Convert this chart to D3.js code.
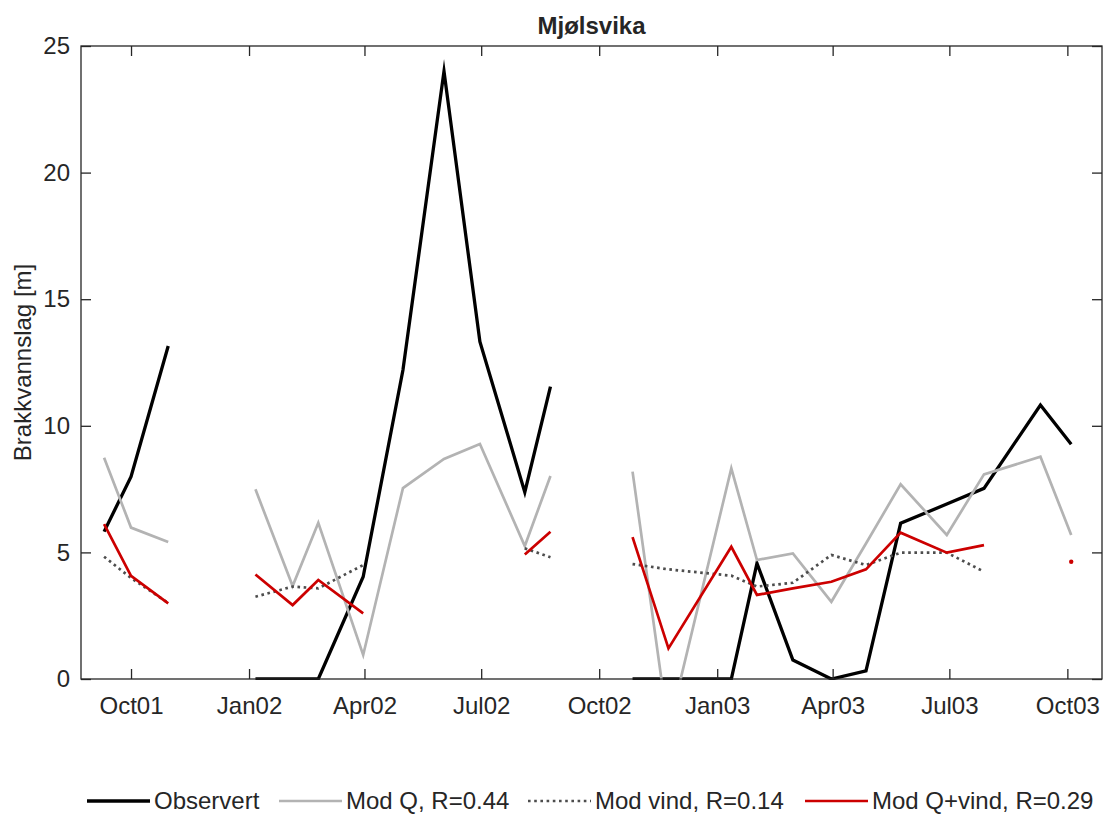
<!DOCTYPE html>
<html>
<head>
<meta charset="utf-8">
<script src="https://cdn.jsdelivr.net/npm/d3@7/dist/d3.min.js"></script>
<style>
  html, body { margin: 0; padding: 0; background: #fff; }
  svg { display: block; }
  text { font-family: "Liberation Sans", Arial, Helvetica, sans-serif; fill: #262626; }
</style>
</head>
<body>
<svg id="chart" width="1104" height="816"></svg>
<script>
// ---------- data ----------
const title = "Mjølsvika";
const yLabel = "Brakkvannslag [m]";
const dates = ["2001-09-10","2001-10-01","2001-10-30","2001-12-01",
  "2002-01-06","2002-02-04","2002-02-24","2002-03-31","2002-05-01","2002-06-02","2002-06-30","2002-08-04","2002-08-24","2002-09-25",
  "2002-10-27","2002-11-24","2003-01-12","2003-02-01","2003-03-01","2003-03-31","2003-04-27","2003-05-24","2003-06-29","2003-07-28","2003-09-10","2003-10-04"];
const observert = [5.82, 7.99, 13.15, null,
  0, 0, 0, 4.04, 12.2, 24.0, 13.32, 7.38, 11.55, null,
  0, 0, 0, 4.57, 0.75, 0, 0.32, 6.15, 6.91, 7.53, 10.82, 9.27];
const modQ = [8.74, 5.98, 5.41, null,
  7.49, 3.67, 6.17, 0.95, 7.54, 8.69, 9.28, 5.25, 8.02, null,
  8.19, -2.0, 8.32, 4.70, 4.96, 3.05, 5.35, 7.69, 5.69, 8.08, 8.78, 5.69];
const modVind = [4.83, 3.99, 3.0, null,
  3.25, 3.65, 3.58, 4.50, null, null, null, 5.16, 4.81, null,
  4.54, 4.33, 4.08, 3.65, 3.80, 4.90, 4.50, 4.99, 4.99, 4.24, null, null];
const modQVind = [6.12, 4.07, 2.99, null,
  4.13, 2.92, 3.91, 2.59, null, null, null, 4.92, 5.82, null,
  5.60, 1.21, 5.22, 3.32, 3.58, 3.84, 4.33, 5.78, 4.99, 5.29, null, 4.63];
const xTickDates = ["2001-10-01","2002-01-01","2002-04-01","2002-07-01","2002-10-01","2003-01-01","2003-04-01","2003-07-01","2003-10-01"];
const xTickLabels = ["Oct01","Jan02","Apr02","Jul02","Oct02","Jan03","Apr03","Jul03","Oct03"];
const yTicks = [0, 5, 10, 15, 20, 25];
const xDomain = ["2001-08-23", "2003-10-28"];
const yDomain = [0, 25];
const seriesNames = ["Observert", "Mod Q, R=0.44", "Mod vind, R=0.14", "Mod Q+vind, R=0.29"];

// ---------- layout ----------
const L = 81, R = 1102, T = 46, B = 679;
const parse = d3.utcParse("%Y-%m-%d");
const svg = d3.select("#chart");
const x = d3.scaleUtc().domain(xDomain.map(parse)).range([L, R]);
const y = d3.scaleLinear().domain(yDomain).range([B, T]);
const axisColor = "#262626";

const series = [
  { name: seriesNames[0], values: observert, color: "#000000", width: 3.3, dash: null },
  { name: seriesNames[1], values: modQ, color: "#b3b3b3", width: 2.7, dash: null },
  { name: seriesNames[2], values: modVind, color: "#4d4d4d", width: 2.7, dash: "2.6,3.6" },
  { name: seriesNames[3], values: modQVind, color: "#cc0000", width: 2.7, dash: null }
];

svg.append("defs").append("clipPath").attr("id", "clip")
  .append("rect").attr("x", L - 2).attr("y", T - 2).attr("width", R - L + 4).attr("height", B - T + 3);

const line = d3.line()
  .defined(d => d.v !== null)
  .x(d => x(d.t))
  .y(d => y(d.v));

const g = svg.append("g").attr("clip-path", "url(#clip)");
series.forEach(s => {
  const pts = dates.map((d, i) => ({ t: parse(d), v: s.values[i] }));
  g.append("path")
    .datum(pts)
    .attr("d", line)
    .attr("fill", "none")
    .attr("stroke", s.color)
    .attr("stroke-width", s.width)
    .attr("stroke-linejoin", "miter")
    .attr("stroke-miterlimit", 10)
    .attr("stroke-dasharray", s.dash);
  // isolated points (no defined neighbours) drawn as a small dot
  pts.forEach((p, i) => {
    if (p.v === null) return;
    const prev = i > 0 ? pts[i - 1].v : null;
    const next = i < pts.length - 1 ? pts[i + 1].v : null;
    if (prev === null && next === null) {
      g.append("circle").attr("cx", x(p.t)).attr("cy", y(p.v)).attr("r", 2.2).attr("fill", s.color);
    }
  });
});

// ---------- axes ----------
const tickLen = 10;
const ax = svg.append("g");
ax.append("rect").attr("x", L).attr("y", T).attr("width", R - L).attr("height", B - T)
  .attr("fill", "none").attr("stroke", axisColor).attr("stroke-width", 1.3);

const xTickVals = xTickDates.map(parse);
const xAxis = d3.axisBottom(x).tickValues(xTickVals)
  .tickFormat((d, i) => xTickLabels[i]).tickSizeInner(-tickLen).tickSizeOuter(0).tickPadding(18);
const gx = svg.append("g").attr("transform", `translate(0,${B})`).call(xAxis);
gx.select(".domain").remove();
gx.selectAll("line").attr("stroke", axisColor).attr("stroke-width", 1.3);
gx.selectAll("text").attr("font-size", 24).attr("fill", axisColor).attr("font-family", '"Liberation Sans", Arial, sans-serif');

const xAxisTop = d3.axisTop(x).tickValues(xTickVals).tickFormat("").tickSizeInner(-tickLen).tickSizeOuter(0);
const gxt = svg.append("g").attr("transform", `translate(0,${T})`).call(xAxisTop);
gxt.select(".domain").remove();
gxt.selectAll("line").attr("stroke", axisColor).attr("stroke-width", 1.3);

const yAxis = d3.axisLeft(y).tickValues(yTicks).tickFormat(d3.format("d")).tickSizeInner(-tickLen).tickSizeOuter(0).tickPadding(11);
const gy = svg.append("g").attr("transform", `translate(${L},0)`).call(yAxis);
gy.select(".domain").remove();
gy.selectAll("line").attr("stroke", axisColor).attr("stroke-width", 1.3);
gy.selectAll("text").attr("font-size", 24).attr("fill", axisColor).attr("font-family", '"Liberation Sans", Arial, sans-serif');

const yAxisR = d3.axisRight(y).tickValues(yTicks).tickFormat("").tickSizeInner(-tickLen).tickSizeOuter(0);
const gyr = svg.append("g").attr("transform", `translate(${R},0)`).call(yAxisR);
gyr.select(".domain").remove();
gyr.selectAll("line").attr("stroke", axisColor).attr("stroke-width", 1.3);

// title
svg.append("text").attr("x", (L + R) / 2).attr("y", 34).attr("text-anchor", "middle")
  .attr("font-size", 24).attr("font-weight", "bold").attr("fill", "#000").text(title);

// y label
svg.append("text").attr("transform", `translate(31,${(T + B) / 2}) rotate(-90)`)
  .attr("text-anchor", "middle").attr("font-size", 24).text(yLabel);

// ---------- legend ----------
const legendX = [87, 279, 528, 805];
const legY = 801;
series.forEach((s, i) => {
  const lx = legendX[i];
  svg.append("line").attr("x1", lx).attr("x2", lx + 63).attr("y1", legY).attr("y2", legY)
    .attr("stroke", s.color).attr("stroke-width", s.width).attr("stroke-dasharray", s.dash);
  svg.append("text").attr("x", lx + 67).attr("y", legY + 8).attr("font-size", 24).attr("fill", "#000").text(s.name);
});
</script>
</body>
</html>
